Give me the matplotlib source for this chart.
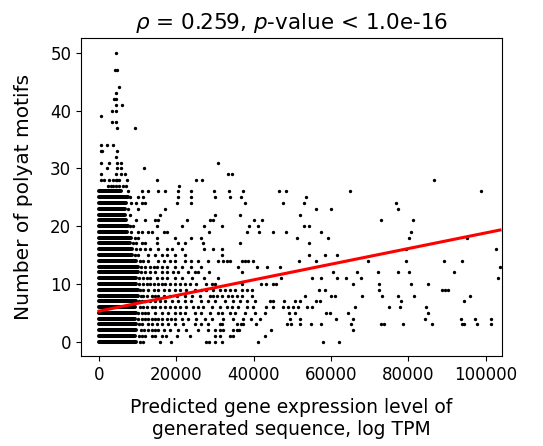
import numpy as np
import matplotlib
matplotlib.use("Agg")
import matplotlib.pyplot as plt

# ---- data (x in thousands of TPM, y = number of polyat motifs) ----
# dense runs: for each y level, the solid run of overlapping points from x=0 to run_end
dense_y = list(range(0, 27))
dense_end_k = [9.6, 9.4, 9.7, 9.5, 9.3, 9.5, 9.3, 9.6, 10.2, 10.0, 9.6, 9.6, 10.0, 10.0,
               9.7, 8.6, 8.5, 7.9, 8.4, 7.3, 7.4, 7.0, 6.8, 6.8, 7.0, 7.4, 5.6]

rows = {
    0: [10.6, 11.5, 15.8, 18.5, 27.8, 28.5, 30.0, 31.7, 41.0, 58.0, 62.1],
    1: [10.4, 11.0, 11.9, 13.6, 14.6, 16.2, 17.4, 20.1, 23.5, 30.0, 31.3, 33.8, 34.7,
        42.9],
    2: [10.8, 11.7, 12.7, 13.6, 14.5, 15.3, 16.7, 18.4, 20.5, 22.6, 25.7, 28.1, 30.0,
        31.3, 32.1, 34.7, 35.6, 36.2, 44.6, 65.7],
    3: [10.3, 11.0, 12.7, 13.8, 14.9, 16.4, 17.9, 19.6, 21.8, 24.8, 26.5, 28.3, 31.3,
        31.7, 35.6, 36.6, 37.3, 40.7, 48.5, 49.6, 51.9, 54.8, 57.5, 65.3, 72.9, 73.7,
        78.6, 86.0, 93.8, 94.3, 97.7, 101.3],
    4: [10.2, 11.0, 11.9, 12.7, 13.6, 14.4, 15.3, 16.2, 17.5, 18.5, 19.6, 21.4, 23.1,
        25.2, 27.4, 29.1, 32.1, 34.7, 37.3, 39.4, 41.6, 49.5, 51.9, 61.3, 65.7, 84.3,
        93.6, 97.2, 101.3],
    5: [10.2, 11.0, 11.9, 12.7, 14.5, 16.2, 17.9, 19.6, 21.0, 22.2, 24.8, 26.5, 28.7,
        30.8, 31.7, 33.8, 35.1, 37.7, 40.3, 42.9, 49.2, 50.7, 58.8, 59.7, 64.4, 85.1],
    6: [10.6, 11.5, 12.4, 13.6, 14.5, 15.8, 17.1, 18.4, 19.6, 20.9, 22.6, 24.3, 25.7,
        26.9, 29.1, 31.3, 33.0, 34.3, 36.0, 38.2, 39.9, 43.1, 45.1, 47.5, 49.0, 50.2,
        51.5, 53.8, 55.2, 66.1, 74.9, 77.8, 84.7],
    7: [10.3, 11.0, 12.0, 13.2, 14.5, 15.8, 17.1, 18.8, 20.5, 22.2, 23.9, 26.5, 28.3,
        30.0, 32.6, 34.7, 36.4, 38.2, 40.3, 44.2, 45.1, 47.9, 50.7, 52.0, 56.1, 57.2,
        78.2, 94.4],
    8: [10.8, 11.5, 12.4, 13.6, 14.4, 15.3, 16.7, 18.4, 20.1, 22.2, 24.0, 26.0, 28.7,
        29.5, 30.4, 31.7, 33.4, 34.3, 35.6, 36.9, 39.5, 53.2, 59.9, 61.0, 67.9, 73.3,
        77.4, 81.4, 96.0],
    9: [10.7, 11.5, 12.7, 14.1, 15.3, 16.7, 18.0, 19.6, 21.0, 22.6, 24.8, 26.5, 27.8,
        29.5, 31.3, 32.6, 33.8, 35.1, 36.9, 38.4, 39.5, 56.9, 58.4, 72.5, 88.8, 89.4,
        90.3],
    10: [10.3, 11.5, 12.4, 13.2, 14.1, 15.3, 16.2, 17.1, 18.4, 19.6, 20.9, 22.2, 23.5,
         25.2, 27.8, 29.1, 30.0, 36.9, 41.8, 43.2, 44.9, 45.9, 65.7, 72.5, 80.6, 85.1],
    11: [10.4, 11.5, 12.4, 13.2, 14.9, 16.2, 17.5, 19.6, 21.4, 24.0, 27.2, 30.8, 47.0,
         55.2, 57.3, 61.6, 64.0, 67.7, 103.3],
    12: [10.8, 11.9, 13.2, 14.5, 16.2, 17.5, 19.2, 20.5, 23.0, 24.8, 25.7, 28.5, 36.9,
         60.4, 66.8, 72.2, 77.4, 80.2, 91.9],
    13: [10.8, 11.9, 13.2, 14.1, 14.9, 16.2, 17.5, 19.6, 21.4, 23.9, 26.4, 36.0, 40.8,
         43.4, 46.7, 103.7],
    14: [10.5, 11.5, 12.7, 15.3, 16.7, 18.4, 19.6, 22.2, 23.9, 25.7, 28.3, 30.7, 32.1,
         33.0, 33.9, 36.9, 37.7, 38.5, 39.9, 51.8, 56.1, 69.6, 79.3, 89.2, 94.0],
    15: [9.3, 10.2, 12.7, 14.5, 16.2, 17.5, 19.6, 22.2, 31.7, 54.4, 58.4, 61.6],
    16: [9.7, 10.6, 11.9, 13.2, 15.3, 17.5, 18.8, 21.4, 27.2, 29.4, 31.7, 79.3, 102.6],
    17: [8.8, 9.7, 11.0, 11.9, 14.9, 20.5, 22.2, 27.0, 36.4, 54.4],
    18: [9.3, 10.2, 14.9, 19.6, 23.9, 26.5, 51.2, 59.3, 80.2, 95.1],
    19: [8.4, 10.2, 11.0, 12.7, 13.6, 16.7, 17.5, 28.5, 38.2, 41.4, 44.9, 48.3, 57.3,
         80.6],
    20: [8.0, 8.9, 14.9, 21.4, 27.2, 31.7, 38.7, 41.0, 53.0, 54.4],
    21: [9.7, 11.9, 14.5, 15.3, 22.7, 28.7, 29.4, 40.0, 42.2, 72.9, 81.1],
    22: [8.0, 15.8, 30.0, 36.4, 51.9],
    23: [7.6, 10.2, 17.1, 56.1, 59.9, 77.4],
    24: [8.4, 9.7, 11.0, 11.9, 20.1, 23.9, 37.7, 47.5, 53.0, 76.7],
    25: [8.0, 10.2, 11.5, 20.5, 23.9, 30.0, 33.9, 36.6, 53.5],
    26: [7.6, 11.0, 12.7, 15.3, 17.2, 20.5, 23.9, 29.8, 33.7, 37.3, 46.6, 48.3, 64.9,
         98.8],
    27: [2.4, 3.0, 3.7, 4.5, 5.3, 6.2, 7.0, 20.7],
    28: [0.6, 1.3, 2.6, 3.5, 4.3, 4.7, 5.2, 7.3, 15.1, 25.1, 26.6, 86.7],
    29: [0.6, 4.3, 5.6, 6.6, 33.3, 34.5],
    30: [2.2, 4.7, 5.6, 11.7],
    31: [0.6, 2.7, 4.7, 5.6, 30.8],
    32: [4.3],
    33: [0.4, 0.8, 4.7],
    34: [0.6, 2.0, 3.5],
    37: [4.7, 9.2],
    38: [3.4, 4.3],
    39: [0.6],
    40: [3.4, 4.3],
    41: [4.3, 6.0],
    42: [3.9, 4.3],
    43: [4.3],
    44: [5.2],
    47: [4.2, 4.6],
    50: [4.3],
}

# regression line
fit_intercept = 5.3
fit_slope_per_k = 0.1353

title = r"$\rho$ = 0.259, $p$-value < 1.0e-16"
xlabel = "Predicted gene expression level of\ngenerated sequence, log TPM"
ylabel = "Number of polyat motifs"
xticks = [0, 20000, 40000, 60000, 80000, 100000]
yticks = [0, 10, 20, 30, 40, 50]

# ---- build arrays ----
xs, ys = [], []
for yv, xl in rows.items():
    for xv in xl:
        xs.append(xv * 1000.0)
        ys.append(yv)
xs = np.array(xs)
ys = np.array(ys)

fig = plt.figure(figsize=(5.43, 4.46), dpi=100)
ax = fig.add_axes([81 / 543, (446 - 356.2) / 446, 420.7 / 543, 317.9 / 446])

dot_pt = 2.9
ax.hlines(dense_y, 0, np.array(dense_end_k) * 1000.0, colors="k",
          linewidth=dot_pt, capstyle="round")
ax.scatter(xs, ys, s=2, c="k")

x_min = 0.0
x_max = xs.max()
lx = np.array([x_min, x_max])
ax.plot(lx, fit_intercept + fit_slope_per_k * lx / 1000.0, color="red", linewidth=2.2)

ax.set_xlim(-4650, 104150)
ax.set_ylim(-2.5, 52.5)
ax.set_xticks(xticks)
ax.set_yticks(yticks)
ax.tick_params(labelsize=12)
ax.set_title(title, fontsize=15.5, pad=7)
ax.set_xlabel(xlabel, fontsize=13.5, labelpad=10)
ax.set_ylabel(ylabel, fontsize=14.5, labelpad=12)

fig.savefig("out.png", dpi=100)
